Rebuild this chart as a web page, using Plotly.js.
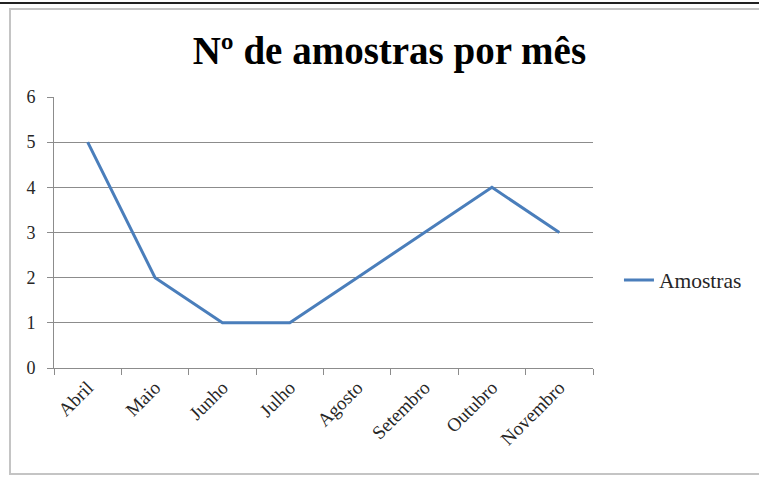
<!DOCTYPE html>
<html>
<head>
<meta charset="utf-8">
<script src="https://cdn.plot.ly/plotly-3.0.1.min.js"></script>
<style>
  html, body { margin: 0; padding: 0; background: #fff; }
  #wrap { position: relative; width: 759px; height: 477px; overflow: hidden; }
  #chart { width: 759px; height: 477px; }
  #topline { position: absolute; left: 0; top: 2px; width: 759px; height: 2px; background: #222; pointer-events: none; }
  #frame { position: absolute; left: 9px; top: 8px; width: 760px; height: 463px; border: 2px solid #c4c4c4; border-right: none; pointer-events: none; }
</style>
</head>
<body>
<div id="wrap">
  <div id="chart"></div>
  <div id="topline"></div>
  <div id="frame"></div>
</div>
<script>
const months = ["Abril", "Maio", "Junho", "Julho", "Agosto", "Setembro", "Outubro", "Novembro"];
const amostras = [5, 2, 1, 1, 2, 3, 4, 3];
const seriesName = "Amostras";
const chartTitle = "Nº de amostras por mês";
const yTicks = [0, 1, 2, 3, 4, 5, 6];

const serif = "'Liberation Serif', 'Times New Roman', serif";

const trace = {
  x: months,
  y: amostras,
  type: "scatter",
  mode: "lines",
  name: seriesName,
  line: { color: "#4A7EBB", width: 3 }
};

const layout = {
  width: 759,
  height: 477,
  margin: { l: 54, r: 166, t: 97, b: 109 },
  paper_bgcolor: "#ffffff",
  plot_bgcolor: "#ffffff",
  font: { family: serif, color: "#262626" },
  title: {
    text: "<b>" + chartTitle + "</b>",
    font: { family: serif, size: 39, color: "#000" },
    x: 0.513, xref: "container", xanchor: "center",
    y: 0.895, yref: "container", yanchor: "middle"
  },
  xaxis: {
    type: "category",
    range: [-0.5, months.length - 0.5],
    tickangle: -45,
    tickson: "boundaries",
    ticks: "outside",
    ticklen: 6,
    tickcolor: "#8c8c8c",
    showline: true,
    linecolor: "#8c8c8c",
    linewidth: 1,
    showgrid: false,
    tickfont: { family: serif, size: 19, color: "#262626" },
    fixedrange: true
  },
  yaxis: {
    range: [0, 6],
    tickvals: yTicks,
    ticks: "outside",
    ticklen: 6,
    tickcolor: "#8c8c8c",
    showline: true,
    linecolor: "#8c8c8c",
    linewidth: 1,
    showgrid: true,
    gridcolor: "#8c8c8c",
    gridwidth: 1,
    zeroline: false,
    tickfont: { family: serif, size: 18, color: "#262626" },
    ticklabelstandoff: 8,
    fixedrange: true
  },
  showlegend: true,
  legend: {
    xref: "container", yref: "container",
    x: 0.8155, xanchor: "left",
    y: 0.413, yanchor: "middle",
    font: { family: serif, size: 21.5, color: "#262626" },
    bgcolor: "rgba(0,0,0,0)",
    itemwidth: 30
  }
};

Plotly.newPlot("chart", [trace], layout, { displayModeBar: false, staticPlot: true });
</script>
</body>
</html>
